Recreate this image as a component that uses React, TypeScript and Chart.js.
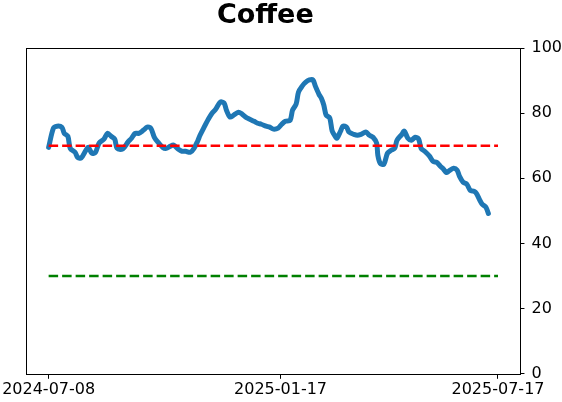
import { useEffect, useRef } from "react"
import { Chart, registerables } from "chart.js"

Chart.register(...registerables)

const titleText = "Coffee"

// day offsets from 2024-07-08 and the reading on that day
const days = [
  0, 4, 7, 11, 13, 16, 18, 22, 24, 27,
  31, 33, 36, 39, 42, 46, 49, 52, 55, 57,
  61, 63, 66, 69, 72, 75, 79, 82, 85, 88,
  91, 95, 98, 101, 104, 108, 111, 114, 118, 121,
  124, 126, 129, 133, 136, 139, 143, 146, 148, 151,
  154, 158, 161, 164, 167, 171, 174, 177, 181, 184,
  187, 191, 194, 197, 201, 203, 206, 208, 211, 214,
  217, 220, 222, 225, 227, 229, 231, 234, 236, 239,
  240, 243, 245, 248, 250, 254, 257, 260, 264, 267,
  270, 273, 274, 276, 279, 282, 285, 288, 290, 294,
  296, 299, 302, 305, 308, 310, 313, 317, 320, 323,
  326, 328, 331, 333, 337, 340, 342, 345, 348, 351,
  354, 356, 359, 361, 364, 366,
]

const values = [
  69.5, 75.4, 76, 75.7, 73.8, 72.9, 69.2, 68, 66.5, 66.2,
  68.6, 69.5, 67.7, 68, 70.8, 72, 73.8, 72.9, 72, 69.2,
  68.9, 69.5, 71.1, 72.3, 73.8, 73.8, 74.8, 75.7, 75.4, 72.6,
  71.1, 69.5, 69.2, 69.8, 70.2, 68.9, 68.3, 68.3, 68, 69.2,
  71.4, 73.2, 75.4, 78.2, 80, 81.2, 83.4, 83.1, 80.9, 78.8,
  79.4, 80.3, 79.7, 78.8, 78.2, 77.5, 76.9, 76.6, 76, 75.7,
  75.1, 75.4, 76.6, 77.5, 77.8, 80.9, 82.8, 86.5, 88.3, 89.5,
  90.2, 90.2, 88.3, 85.8, 84.6, 82.5, 79.4, 78.5, 74.5, 72.6,
  72.3, 74.5, 76, 75.7, 74.2, 73.5, 73.2, 73.5, 74.2, 73.2,
  72.6, 70.8, 67.1, 64.6, 64.3, 67.7, 68.6, 69.2, 71.7, 73.5,
  74.5, 72.3, 71.7, 72.6, 72, 69.2, 68.3, 66.8, 65.2, 64.9,
  63.7, 63.1, 61.8, 62.2, 63.1, 62.5, 60.6, 58.8, 58.2, 56.3,
  56, 55.4, 53.2, 52, 51.1, 49.2,
]

const upperLevel = 70
const lowerLevel = 30
const levelDays = [0, 374]

const tickDays = [0, 193, 374]
const tickLabels = ["2024-07-08", "2025-01-17", "2025-07-17"]

const xMin = -18.7
const xMax = 392.7

const framePlugin = {
  id: "frame",
  afterDraw(chart: Chart) {
    const { ctx, chartArea } = chart
    ctx.save()
    ctx.strokeStyle = "#000"
    ctx.lineWidth = 1
    ctx.strokeRect(
      Math.round(chartArea.left) + 0.5,
      Math.round(chartArea.top) + 0.5,
      Math.round(chartArea.right - chartArea.left),
      Math.round(chartArea.bottom - chartArea.top)
    )
    ctx.restore()
  },
}

const titlePlugin = {
  id: "plotTitle",
  afterDraw(chart: Chart) {
    const { ctx, chartArea } = chart
    ctx.save()
    ctx.fillStyle = "#000"
    ctx.font = "bold 27px 'DejaVu Sans'"
    ctx.textAlign = "center"
    ctx.textBaseline = "alphabetic"
    ctx.fillText(titleText, (chartArea.left + chartArea.right) / 2 - 8, 22.5)
    ctx.restore()
  },
}

export default function App() {
  const chartRef = useRef<HTMLCanvasElement>(null)
  const chartInstance = useRef<Chart | null>(null)

  useEffect(() => {
    if (!chartRef.current) return
    if (chartInstance.current) chartInstance.current.destroy()
    const ctx = chartRef.current.getContext("2d")
    if (!ctx) return

    const tickFont = { family: "'DejaVu Sans'", size: 16 }

    chartInstance.current = new Chart(ctx, {
      type: "line",
      data: {
        datasets: [
          {
            data: levelDays.map((d) => ({ x: d, y: upperLevel })),
            borderColor: "#ff0000",
            borderWidth: 2.5,
            borderDash: [9.5, 4],
            pointRadius: 0,
            order: 1,
          },
          {
            data: levelDays.map((d) => ({ x: d, y: lowerLevel })),
            borderColor: "#008000",
            borderWidth: 2.5,
            borderDash: [9.5, 4],
            pointRadius: 0,
            order: 1,
          },
          {
            data: days.map((d, i) => ({ x: d, y: values[i] })),
            borderColor: "#1f77b4",
            borderWidth: 5,
            borderJoinStyle: "round",
            borderCapStyle: "round",
            tension: 0.3,
            pointRadius: 0,
            order: 2,
          },
        ],
      },
      options: {
        responsive: false,
        animation: false,
        layout: { padding: { top: 48, left: 25, right: -7, bottom: 2 } },
        plugins: {
          legend: { display: false },
          tooltip: { enabled: false },
          title: { display: false },
        },
        scales: {
          x: {
            type: "linear",
            min: xMin,
            max: xMax,
            afterBuildTicks: (scale) => {
              scale.ticks = tickDays.map((v) => ({ value: v }))
            },
            grid: {
              drawOnChartArea: false,
              drawTicks: true,
              tickLength: 5,
              color: "#000",
            },
            border: { display: false },
            ticks: {
              autoSkip: false,
              maxRotation: 0,
              padding: 1,
              color: "#000",
              font: tickFont,
              callback: (value) => {
                const idx = tickDays.indexOf(Number(value))
                return idx >= 0 ? tickLabels[idx] : ""
              },
            },
          },
          y: {
            position: "right",
            min: 0,
            max: 100,
            grid: {
              drawOnChartArea: false,
              drawTicks: true,
              tickLength: 4,
              color: "#000",
            },
            border: { display: false },
            ticks: {
              stepSize: 20,
              padding: 7,
              color: "#000",
              font: tickFont,
            },
          },
        },
      },
      plugins: [framePlugin, titlePlugin],
    })

    return () => {
      if (chartInstance.current) {
        chartInstance.current.destroy()
        chartInstance.current = null
      }
    }
  }, [])

  return (
    <div style={{ position: "fixed", left: 0, top: 0, width: 562, height: 402, background: "#fff" }}>
      <canvas ref={chartRef} width={562} height={402}></canvas>
    </div>
  )
}
